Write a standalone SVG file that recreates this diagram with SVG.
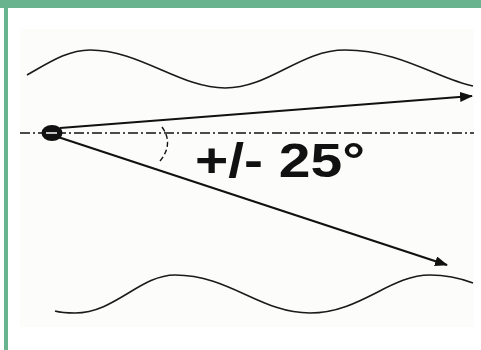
<svg xmlns="http://www.w3.org/2000/svg" width="481" height="350" viewBox="0 0 481 350">
  <style>
    .wave{fill:none;stroke:#1a1a1a;stroke-width:1.6}
    .arrow{fill:none;stroke:#111;stroke-width:2.2;marker-end:url(#ah)}
    .center{fill:none;stroke:#111;stroke-width:1.5;stroke-dasharray:10 3 2 3}
    .arc{fill:none;stroke:#111;stroke-width:1.4;stroke-dasharray:5 3}
    .lbl{font-family:"Liberation Sans",Arial,sans-serif;font-weight:bold;font-size:48px;fill:#111}
  </style>
  <defs>
    <marker id="ah" viewBox="0 0 13 10" refX="12" refY="5" markerWidth="13" markerHeight="10" markerUnits="userSpaceOnUse" orient="auto">
      <path d="M0,0 L13,5 L0,10 Z" fill="#111"/>
    </marker>
  </defs>
  <rect x="0" y="0" width="481" height="350" fill="#ffffff"/>
  <rect x="20" y="29" width="454" height="298" fill="#fcfcfa"/>
  <g id="frame">
    <rect x="0" y="0" width="481" height="8" fill="#69b48f"/>
    <rect x="4" y="0" width="4" height="350" fill="#69b48f"/>
  </g>
  <g id="walls">
    <path class="wave" d="M27,75 C50,62 68,50 90,50 C140,50 180,88 225,88 C270,88 300,50 345,50 C400,50 440,80 473,86"/>
    <path class="wave" d="M55,311 C62,313 68,313 75,313 C115,313 140,275 175,275 C230,275 260,313 310,313 C360,313 390,275 430,275 C450,275 465,280 473,283"/>
  </g>
  <g id="connectors">
    <line class="center" x1="20" y1="133" x2="474" y2="133"/>
    <line class="arrow" x1="60" y1="128" x2="472" y2="96"/>
    <line class="arrow" x1="58" y1="137" x2="447" y2="265"/>
    <path class="arc" d="M162,127 Q174,144 160,161"/>
  </g>
  <g id="source">
    <ellipse cx="52" cy="133" rx="10.5" ry="8" fill="#111"/>
    <line x1="46" y1="133" x2="57" y2="133" stroke="#fff" stroke-width="1.5"/>
  </g>
  <g id="label">
    <text class="lbl" x="195" y="177" textLength="170" lengthAdjust="spacingAndGlyphs">+/- 25°</text>
  </g>
</svg>
